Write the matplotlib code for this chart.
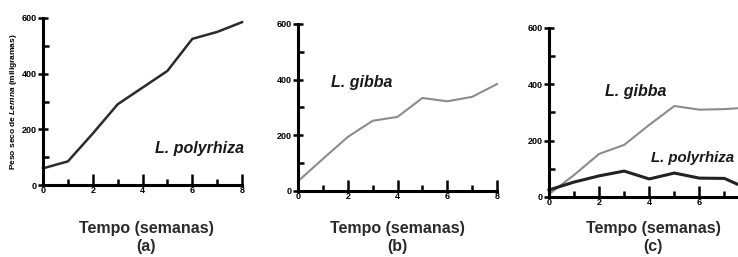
import matplotlib.pyplot as plt
from matplotlib.ticker import MultipleLocator

plt.rcParams['font.family'] = ['Liberation Sans', 'DejaVu Sans']
plt.rcParams['font.weight'] = 'bold'
plt.rcParams['mathtext.fontset'] = 'custom'
plt.rcParams['mathtext.it'] = 'Liberation Sans:italic:bold'
plt.rcParams['mathtext.rm'] = 'Liberation Sans:bold'

# Data (weeks, mg)
semanas = [0, 1, 2, 3, 4, 5, 6, 7, 8]
polyrhiza_a = [60, 85, 185, 290, 350, 410, 525, 550, 585]
gibba_b = [35, 115, 194, 252, 266, 334, 322, 338, 384]

semanas_c = [0, 1, 2, 3, 4, 5, 6, 7, 7.5]
gibba_c = [10, 78, 153, 185, 256, 323, 310, 312, 315]
polyrhiza_c = [25, 53, 75, 92, 64, 85, 67, 66, 46]

paineis = ['(a)', '(b)', '(c)']
xmax = [8, 8, 7.5]

fig = plt.figure(figsize=(7.38, 2.57), dpi=100)
posicoes = [
    [0.0583, 0.280, 0.2697, 0.650],
    [0.4038, 0.257, 0.2697, 0.650],
    [0.7439, 0.2335, 0.2547, 0.6576],
]
axes = [fig.add_axes(p) for p in posicoes]

for ax, xm in zip(axes, xmax):
    ax.set_xlim(0, xm)
    ax.set_ylim(0, 600)
    for s in ['top', 'right']:
        ax.spines[s].set_visible(False)
    for s in ['left', 'bottom']:
        ax.spines[s].set_linewidth(2.2)
    ax.xaxis.set_major_locator(MultipleLocator(2))
    ax.xaxis.set_minor_locator(MultipleLocator(1))
    ax.yaxis.set_major_locator(MultipleLocator(200))
    ax.yaxis.set_minor_locator(MultipleLocator(100))
    ax.tick_params(axis='x', which='major', direction='in', length=8, width=1.8, pad=1,
                   labelsize=6.5)
    ax.tick_params(axis='x', which='minor', direction='in', length=4, width=1.8)
    ax.tick_params(axis='y', which='major', direction='inout', length=7, width=1.8, pad=1,
                   labelsize=6.5)
    ax.tick_params(axis='y', which='minor', direction='in', length=4, width=1.8)

ax_a, ax_b, ax_c = axes

especie = dict(fontweight='bold', style='italic', ha='center', va='center', color='#1a1a1a')

ax_a.plot(semanas, polyrhiza_a, color='#2b2b2b', lw=1.8, clip_on=False)
ax_a.text(6.3, 133, 'L. polyrhiza', fontsize=11.5, **especie)
ax_a.set_ylabel('Peso seco de $Lemna$ (miligramas)', fontsize=6, fontweight='bold', labelpad=2)

ax_b.plot(semanas, gibba_b, color='#8c8c8c', lw=1.5, clip_on=False)
ax_b.text(2.57, 388, 'L. gibba', fontsize=11.5, **especie)

ax_c.plot(semanas_c, gibba_c, color='#8c8c8c', lw=1.5, clip_on=False)
ax_c.plot(semanas_c, polyrhiza_c, color='#222222', lw=2.2, clip_on=False)
ax_c.text(3.44, 376, 'L. gibba', fontsize=11.5, **especie)
ax_c.text(5.72, 138, 'L. polyrhiza', fontsize=10.8, **especie)

centros = [146 / 738, 397 / 738, 653 / 738]
for cx, p in zip(centros, paineis):
    fig.text(cx, 1 - 228 / 257, 'Tempo (semanas)', fontsize=11.5, fontweight='bold',
             ha='center', va='center', color='#2a2a2a')
    fig.text(cx, 1 - 246 / 257, p, fontsize=11.5, fontweight='bold',
             ha='center', va='center', color='#2a2a2a')

fig.savefig('out.png', dpi=100)
